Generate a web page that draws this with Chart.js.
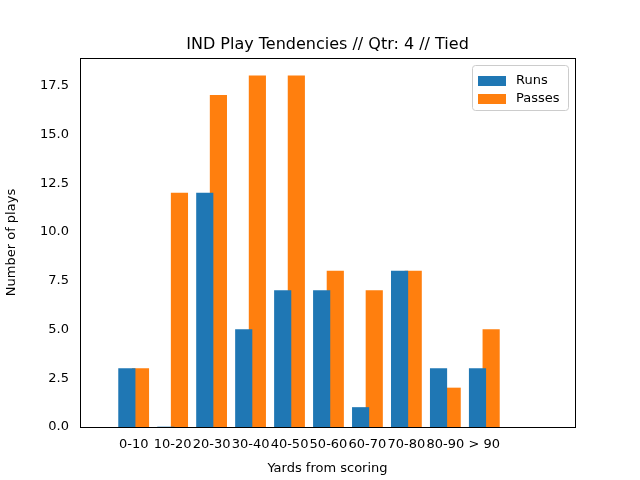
<!DOCTYPE html><html><head><script src="https://cdn.jsdelivr.net/npm/chart.js@4"></script>
<style>body{margin:0;background:#fff}#w{width:640px;height:480px}</style></head><body><div id="w"><canvas id="c"></canvas></div>
<script>
const categories=["0-10","10-20","20-30","30-40","40-50","50-60","60-70","70-80","80-90","> 90",""];
const runs=[3,0,12,5,7,7,1,8,3,3];
const passes=[3,12,17,18,18,8,7,8,2,5];
const yTicks=[0,2.5,5,7.5,10,12.5,15,17.5];
const F="DejaVu Sans";
const deco={id:'deco',afterDraw(ch){const c=ch.ctx,a=ch.chartArea;c.save();
c.strokeStyle='#000';c.lineWidth=1;c.strokeRect(Math.round(a.left)+.5,Math.round(a.top)+.5,Math.round(a.right-a.left),Math.round(a.bottom-a.top));
c.fillStyle='#000';c.font='16px '+F;c.textAlign='center';c.textBaseline='alphabetic';c.fillText('IND Play Tendencies // Qtr: 4 // Tied',(a.left+a.right)/2,49);
const lx=a.right-103,ly=a.top+7;c.fillStyle='#fff';c.strokeStyle='#ccc';c.beginPath();c.roundRect(lx+.5,ly+.5,96,45,3);c.fill();c.stroke();
c.font='13px '+F;c.textAlign='left';c.textBaseline='middle';
[['Runs','#1f77b4',16],['Passes','#ff7f0e',34]].forEach(([t,col,dy])=>{c.fillStyle=col;c.fillRect(lx+6,ly+dy-5,28,10);c.fillStyle='#000';c.fillText(t,lx+44,ly+dy);});
c.restore();}};
new Chart(document.getElementById('c'),{type:'bar',
data:{datasets:[
{label:'Runs',data:runs.map((v,i)=>({x:i-0.175,y:v})),backgroundColor:'#1f77b4',barThickness:16.5,grouped:false},
{label:'Passes',data:passes.map((v,i)=>({x:i+0.175,y:v})),backgroundColor:'#ff7f0e',barThickness:16.5,grouped:false}]},
options:{responsive:true,maintainAspectRatio:false,animation:false,events:[],
layout:{padding:{top:58,right:65,left:0,bottom:0}},
plugins:{legend:{display:false},tooltip:{enabled:false}},
scales:{
x:{type:'linear',min:-0.8,max:10.75,grid:{display:false,drawTicks:true},border:{display:false},
afterBuildTicks(s){s.ticks=categories.map((_,i)=>({value:i}));},
afterFit(s){s.height=53;},
ticks:{autoSkip:false,maxRotation:0,color:'#000',font:{family:F,size:13},padding:2,callback:(v)=>categories[v]},
title:{display:true,text:'Yards from scoring',color:'#000',font:{family:F,size:13},padding:{top:0}}},
y:{min:0,max:18.92,grid:{display:false},border:{display:false},
afterBuildTicks(s){s.ticks=yTicks.map(v=>({value:v}));},
afterFit(s){s.width=80;},
ticks:{color:'#000',font:{family:F,size:13},callback:v=>v.toFixed(1)},
title:{display:true,text:'Number of plays',color:'#000',font:{family:F,size:13},padding:{bottom:4}}}}},
plugins:[deco]});
</script></body></html>
